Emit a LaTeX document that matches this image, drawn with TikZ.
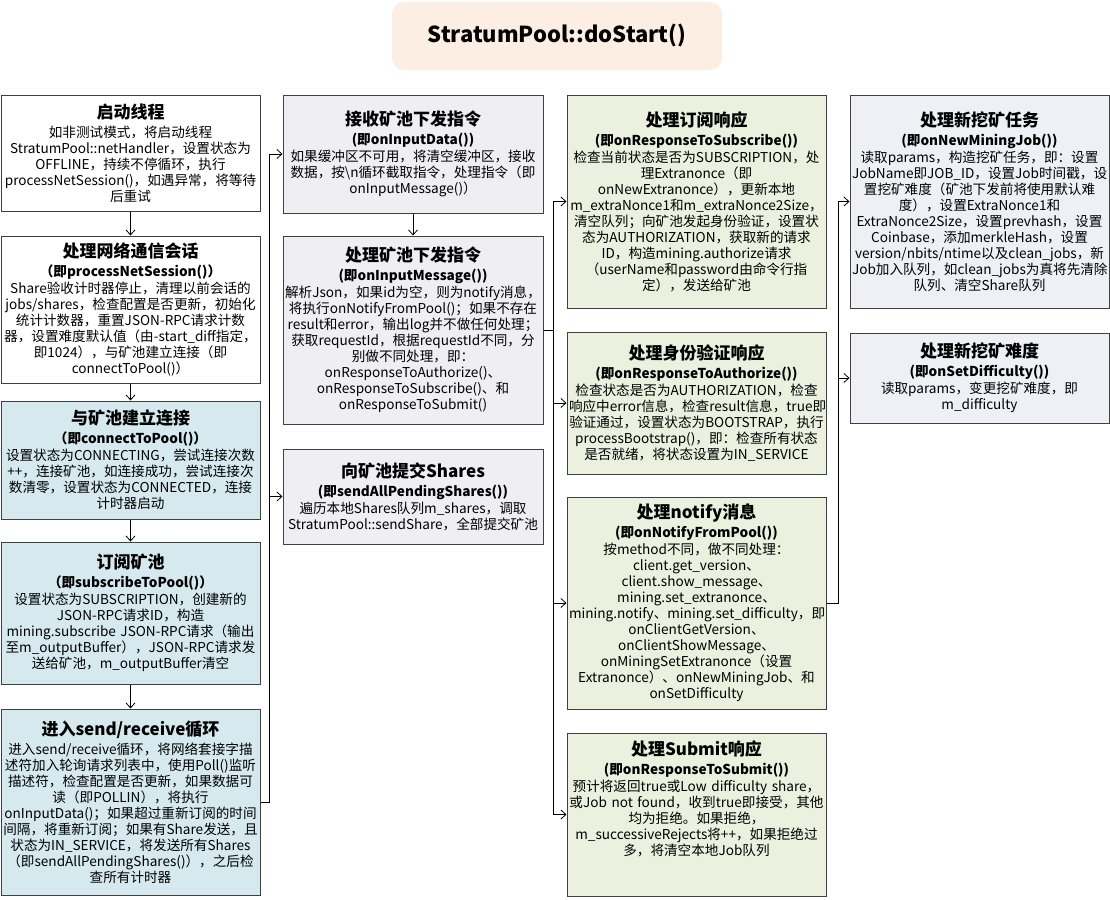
\documentclass[tikz,border=0pt]{standalone}
\usepackage{fontspec}
\setmainfont{Noto Sans CJK SC}
\usetikzlibrary{arrows.meta}
\definecolor{cblue}{HTML}{D5E9EF}
\definecolor{cgray}{HTML}{EFEEF3}
\definecolor{cgreen}{HTML}{EBF0DF}
\definecolor{cslate}{HTML}{EEF0F5}
\definecolor{cpeach}{HTML}{FDEEE3}
\definecolor{cborder}{HTML}{404040}
\newcommand{\ttl}[1]{{\fontsize{17}{20}\selectfont\bfseries #1}\\[3pt]}
\newcommand{\sub}[1]{{\bfseries #1}\\[1pt]}
\tikzset{
  box/.style={draw=cborder, line width=1pt, inner sep=0pt, align=center,
    font=\fontsize{13.6}{16}\selectfont},
  colA/.style={box, fill=cblue},
  colB/.style={box, fill=cgray},
  colC/.style={box, fill=cgreen},
  colD/.style={box, fill=cslate},
  arr/.style={draw=black, line width=0.8pt, -{Straight Barb[length=5pt,width=9pt]}},
}
\begin{document}
\begin{tikzpicture}[x=1pt,y=-1pt]
\useasboundingbox (0,0) rectangle (1110,899);

% title
\node[fill=cpeach, rounded corners=12pt, minimum width=330, minimum height=68,
  font=\fontsize{22}{26}\selectfont\bfseries] (title) at (557,36) {StratumPool::doStart()};

% column 1
\node[box, fill=white, minimum width=259, minimum height=116, text width=255] (b1) at (130.5,153) {%
\ttl{启动线程}
如非测试模式，将启动线程\\
StratumPool::netHandler，设置状态为\\
OFFLINE，持续不停循环，执行\\
processNetSession()，如遇异常，将等待\\
后重试};

\node[box, fill=white, minimum width=259, minimum height=147, text width=255] (b2) at (130.5,309.5) {%
\ttl{处理网络通信会话}
\sub{（即processNetSession()）}
Share验收计时器停止，清理以前会话的\\
jobs/shares，检查配置是否更新，初始化\\
统计计数器，重置JSON-RPC请求计数\\
器，设置难度默认值（由-start\_diff指定，\\
即1024），与矿池建立连接（即\\
connectToPool()）};

\node[colA, minimum width=259, minimum height=118, text width=255] (b3) at (130.5,460) {%
\ttl{与矿池建立连接}
\sub{（即connectToPool()）}
设置状态为CONNECTING，尝试连接次数\\
++，连接矿池，如连接成功，尝试连接次\\
数清零，设置状态为CONNECTED，连接\\
计时器启动};

\node[colA, minimum width=259, minimum height=142, text width=255] (b4) at (130.5,613) {%
\ttl{订阅矿池}
\sub{（即subscribeToPool()）}
设置状态为SUBSCRIPTION，创建新的\\
JSON-RPC请求ID，构造\\
mining.subscribe JSON-RPC请求（输出\\
至m\_outputBuffer），JSON-RPC请求发\\
送给矿池，m\_outputBuffer清空};

\node[colA, minimum width=259, minimum height=186, text width=255] (b5) at (130.5,802) {%
\ttl{进入send/receive循环}
进入send/receive循环，将网络套接字描\\
述符加入轮询请求列表中，使用Poll()监听\\
描述符，检查配置是否更新，如果数据可\\
读（即POLLIN），将执行\\
onInputData()；如果超过重新订阅的时间\\
间隔，将重新订阅；如果有Share发送，且\\
状态为IN\_SERVICE，将发送所有Shares\\
（即sendAllPendingShares()），之后检\\
查所有计时器};

% column 2
\node[colB, minimum width=260, minimum height=118, text width=256] (b6) at (413,154) {%
\ttl{接收矿池下发指令}
\sub{(即onInputData())}
如果缓冲区不可用，将清空缓冲区，接收\\
数据，按\textbackslash n循环截取指令，处理指令（即\\
onInputMessage()）};

\node[colB, minimum width=260, minimum height=188, text width=256] (b7) at (413,330) {%
\ttl{处理矿池下发指令}
\sub{(即onInputMessage())}
解析Json，如果id为空，则为notify消息，\\
将执行onNotifyFromPool()；如果不存在\\
result和error，输出log并不做任何处理；\\
获取requestId，根据requestId不同，分\\
别做不同处理，即：\\
onResponseToAuthorize()、\\
onResponseToSubscribe()、和\\
onResponseToSubmit()};

\node[colB, minimum width=260, minimum height=95, text width=256] (b8) at (413,496.5) {%
\ttl{向矿池提交Shares}
\sub{(即sendAllPendingShares())}
遍历本地Shares队列m\_shares，调取\\
StratumPool::sendShare，全部提交矿池};

% column 3
\node[colC, minimum width=259, minimum height=213, text width=255] (b9) at (696.5,201.5) {%
\ttl{处理订阅响应}
\sub{(即onResponseToSubscribe())}
检查当前状态是否为SUBSCRIPTION，处\\
理Extranonce（即\\
onNewExtranonce），更新本地\\
m\_extraNonce1和m\_extraNonce2Size，\\
清空队列；向矿池发起身份验证，设置状\\
态为AUTHORIZATION，获取新的请求\\
ID，构造mining.authorize请求\\
（userName和password由命令行指\\
定），发送给矿池};

\node[colC, minimum width=259, minimum height=142, text width=255] (b10) at (696.5,403) {%
\ttl{处理身份验证响应}
\sub{(即onResponseToAuthorize())}
检查状态是否为AUTHORIZATION，检查\\
响应中error信息，检查result信息，true即\\
验证通过，设置状态为BOOTSTRAP，执行\\
processBootstrap()，即：检查所有状态\\
是否就绪，将状态设置为IN\_SERVICE};

\node[colC, minimum width=259, minimum height=212, text width=255] (b11) at (696.5,603) {%
\ttl{处理notify消息}
\sub{(即onNotifyFromPool())}
按method不同，做不同处理：\\
client.get\_version、\\
client.show\_message、\\
mining.set\_extranonce、\\
mining.notify、mining.set\_difficulty，即\\
onClientGetVersion、\\
onClientShowMessage、\\
onMiningSetExtranonce（设置\\
Extranonce）、onNewMiningJob、和\\
onSetDifficulty};

\node[colC, minimum width=259, minimum height=163, text width=255] (b12) at (696.5,814.5) {%
\ttl{处理Submit响应}
\sub{(即onResponseToSubmit())}
预计将返回true或Low difficulty share，\\
或Job not found，收到true即接受，其他\\
均为拒绝。如果拒绝，\\
m\_successiveRejects将++，如果拒绝过\\
多，将清空本地Job队列\\
~\\
~};

% column 4
\node[colD, minimum width=259, minimum height=213, text width=255] (b13) at (979.5,201.5) {%
\ttl{处理新挖矿任务}
\sub{(即onNewMiningJob())}
读取params，构造挖矿任务，即：设置\\
JobName即JOB\_ID，设置Job时间戳，设\\
置挖矿难度（矿池下发前将使用默认难\\
度），设置ExtraNonce1和\\
ExtraNonce2Size，设置prevhash，设置\\
Coinbase，添加merkleHash，设置\\
version/nbits/ntime以及clean\_jobs，新\\
Job加入队列，如clean\_jobs为真将先清除\\
队列、清空Share队列};

\node[colD, minimum width=259, minimum height=90, text width=255] (b14) at (979.5,378) {%
\ttl{处理新挖矿难度}
\sub{(即onSetDifficulty())}
读取params，变更挖矿难度，即\\
m\_difficulty};

% connectors
\draw[arr] (b1) -- (b2);
\draw[arr] (b2) -- (b3);
\draw[arr] (b3) -- (b4);
\draw[arr] (b4) -- (b5);
\draw[arr] (b5.east) -- ++(9,0) |- (b6.west);
\draw[arr] (b5.east) -- ++(9,0) |- (b8.west);
\draw[arr] (b6) -- (b7);
\draw[arr] (b7.east) -- ++(10,0) |- (b9.west);
\draw[arr] (b7.east) -- ++(10,0) |- (b10.west);
\draw[arr] (b7.east) -- ++(10,0) |- (b11.west);
\draw[arr] (b7.east) -- ++(10,0) |- (b12.west);
\draw[arr] (b11.east) -- ++(12,0) |- (b13.west);
\draw[arr] (b11.east) -- ++(12,0) |- (b14.west);
\end{tikzpicture}
\end{document}
